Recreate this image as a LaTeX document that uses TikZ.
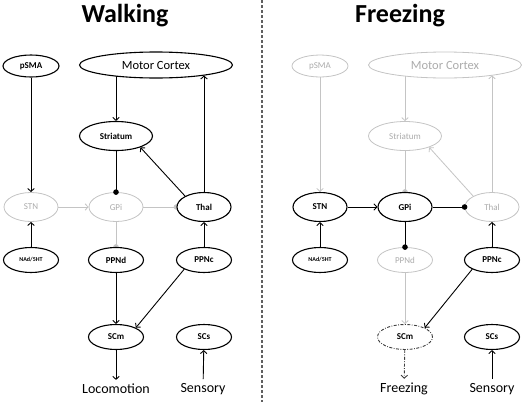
\documentclass[tikz,border=0pt]{standalone}
\usepackage{fontspec}
\setsansfont{Carlito}
\usetikzlibrary{
  shapes.geometric,
  positioning,
  calc,
  backgrounds,
  arrows.meta}
\definecolor{offcolor}{RGB}{196,196,196}
\definecolor{offtextcolor}{RGB}{172,172,172}
\definecolor{dividercolor}{RGB}{95,95,95}
\definecolor{doubtcolor}{RGB}{60,60,60}
\tikzset{
  %% nucleus : an active nucleus
  nucleus/.style={
    ellipse,
    draw=black,
    line width=1.1pt,
    fill=white,
    minimum width=55pt,
    minimum height=25pt,
    inner sep=0pt,
    font=\fontsize{9}{10}\selectfont\bfseries
  },
  %% silent : a nucleus that is switched off
  silent/.style={
    nucleus,
    draw=offcolor,
    line width=0.8pt,
    text=offtextcolor,
    font=\fontsize{9}{10}\selectfont
  },
  %% doubtful : a nucleus of uncertain state
  doubtful/.style={
    nucleus,
    draw=doubtcolor,
    line width=0.9pt,
    dash pattern=on 3pt off 1.5pt on 0.8pt off 1.5pt
  },
  %% large : basal ganglia nuclei are drawn a bit taller
  large/.style={
    minimum width=54pt,
    minimum height=29pt
  },
  %% behaviour : the output / input text
  behaviour/.style={
    inner sep=4pt,
    font=\fontsize{14}{16}\selectfont
  },
  %% heading : title of a panel
  heading/.style={
    font=\fontsize{26}{30}\selectfont\bfseries
  },
  %% excite : an excitatory connection
  excite/.style={
    -{Straight Barb[length=3pt,width=6.5pt]},
    line width=0.9pt
  },
  %% inhibit : an inhibitory connection
  %% (ball is centred on the border of the target)
  inhibit/.style={
    -{Circle[length=5.5pt]},
    shorten >=-2.75pt,
    line width=0.9pt
  },
  %% faded : a connection that is switched off
  faded/.style={offcolor, line width=0.8pt}
}

\begin{document}
\begin{tikzpicture}
  [x=1pt,
  y=-1pt]
  \sffamily

  \useasboundingbox (0, 0) rectangle (525, 402);

  %% Grid for orientation. Comment out for final figure!
  %\draw[help lines, green](0, 0) grid[step=10pt] (525, 402);

  %% Divider between the two panels
  \draw [dividercolor, line width=1.2pt, dash pattern=on 3pt off 2pt]
  (262, 0) -- (262, 402);

  %%% Walking panel
  \node (w-title) [heading] at (125, 16) {Walking};

  \node (w-psma) [nucleus, minimum width=56pt, minimum height=22pt] at (31, 66) {pSMA};
  \node (w-mc) [nucleus, minimum width=153pt, minimum height=26pt,
  font=\fontsize{12.5}{14}\selectfont] at (156, 65) {Motor Cortex};
  \node (w-str) [nucleus, minimum width=73pt, minimum height=29pt] at (116, 136) {Striatum};

  \node (w-stn) [silent, large] at (31, 207) {STN};
  \node (w-gpi) [silent, large] at (116, 207) {GPi};
  \node (w-thal) [nucleus, large] at (204, 207) {Thal};

  \node (w-nad) [nucleus, font=\fontsize{6}{7}\selectfont\bfseries] at (31, 260) {NAd/5HT};
  \node (w-ppnd) [nucleus] at (116, 260) {PPNd};
  \node (w-ppnc) [nucleus] at (204, 260) {PPNc};

  \node (w-scm) [nucleus] at (116, 337) {SCm};
  \node (w-scs) [nucleus] at (204, 337) {SCs};

  \node (w-loco) [behaviour] at (116, 389) {Locomotion};
  \node (w-sens) [behaviour] at (203, 389) {Sensory};

  %% Connections (switched off ones lie behind the nuclei)
  \begin{scope}[on background layer]
    \draw [excite, faded] (w-stn) -- (w-gpi);
    \draw [inhibit, faded] (w-gpi) -- (w-thal);
    \draw [inhibit, faded] (w-gpi) -- (w-ppnd);
  \end{scope}
  \draw [excite] (w-psma) -- (w-stn);
  \draw [excite] (w-str.north |- w-mc.195) -- (w-str);
  \draw [excite] (w-thal) -- (w-thal.north |- w-mc.348);
  \draw [excite] (w-thal.150) -- (w-str.-25);
  \draw [inhibit] (w-str) -- (w-gpi);
  \draw [excite] (w-nad) -- (w-stn);
  \draw [excite] (w-ppnc) -- (w-thal);
  \draw [excite] (w-ppnd) -- (w-scm);
  \draw [excite] (w-ppnc.205) -- (w-scm.25);
  \draw [excite] (w-sens) -- (w-scs);
  \draw [excite] (w-scm) -- (w-loco);

  %%% Freezing panel
  \node (f-title) [heading] at (400, 16) {Freezing};

  \node (f-psma) [silent, minimum width=56pt, minimum height=22pt] at (320, 66) {pSMA};
  \node (f-mc) [silent, minimum width=153pt, minimum height=26pt,
  font=\fontsize{12.5}{14}\selectfont] at (445, 65) {Motor Cortex};
  \node (f-str) [silent, minimum width=73pt, minimum height=29pt] at (405, 136) {Striatum};

  \node (f-stn) [nucleus, large] at (320, 207) {STN};
  \node (f-gpi) [nucleus, large] at (405, 207) {GPi};
  \node (f-thal) [silent, large] at (492, 207) {Thal};

  \node (f-nad) [nucleus, font=\fontsize{6}{7}\selectfont\bfseries] at (320, 260) {NAd/5HT};
  \node (f-ppnd) [silent] at (405, 260) {PPNd};
  \node (f-ppnc) [nucleus] at (492, 260) {PPNc};

  \node (f-scm) [doubtful] at (405, 337) {SCm};
  \node (f-scs) [nucleus] at (492, 337) {SCs};

  \node (f-freeze) [behaviour] at (404, 389) {Freezing};
  \node (f-sens) [behaviour] at (492, 389) {Sensory};

  %% Connections
  \begin{scope}[on background layer]
    \draw [excite, faded] (f-psma) -- (f-stn);
    \draw [excite, faded] (f-str.north |- f-mc.195) -- (f-str);
    \draw [excite, faded] (f-thal) -- (f-thal.north |- f-mc.348);
    \draw [excite, faded] (f-thal.150) -- (f-str.-25);
    \draw [inhibit, faded] (f-str) -- (f-gpi);
    \draw [excite, faded] (f-ppnd) -- (f-scm);
  \end{scope}
  \draw [excite] (f-stn) -- (f-gpi);
  \draw [inhibit] (f-gpi) -- (f-thal);
  \draw [inhibit] (f-gpi) -- (f-ppnd);
  \draw [excite] (f-nad) -- (f-stn);
  \draw [excite] (f-ppnc) -- (f-thal);
  \draw [excite] (f-ppnc.205) -- (f-scm.25);
  \draw [excite] (f-sens) -- (f-scs);
  \draw [excite, doubtcolor, dash pattern=on 3pt off 1.5pt on 0.8pt off 1.5pt]
  (f-scm) -- (f-freeze);

\end{tikzpicture}
\end{document}
